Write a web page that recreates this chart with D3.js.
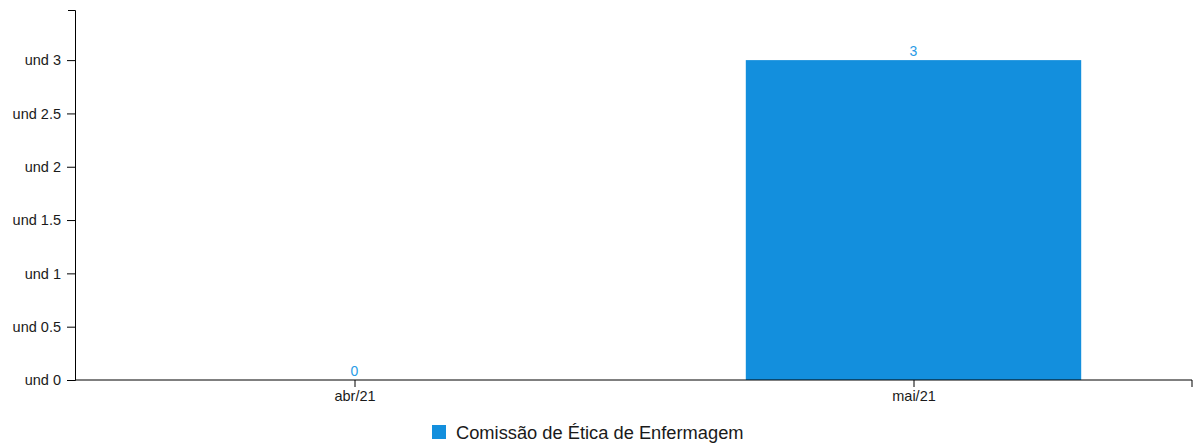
<!doctype html>
<head>
	<meta charset="utf-8">
	<script src="https://d3js.org/d3.v7.min.js"></script>
	<style>
		body { margin: 0; background: #fff; }
		text { font-family: "Liberation Sans", Arial, sans-serif; }
	</style>
</head>
<body>
	<svg id="chart" width="1194" height="445"></svg>
	<script>
		// data
		let categories = ["abr/21", "mai/21"]
		let values = [0, 3]
		let seriesName = "Comissão de Ética de Enfermagem"
		let yTicks = [0, 0.5, 1, 1.5, 2, 2.5, 3]
		let yMax = 3.47

		let color = "#138fdd"
		let svg = d3.select("#chart")

		let x = d3.scaleBand().domain(categories).range([75, 1193])
			.paddingInner(0.4).paddingOuter(0.2)
		let y = d3.scaleLinear().domain([0, yMax]).range([380, 10])

		// bars
		svg.selectAll("rect.bar").data(values).join("rect")
			.attr("class", "bar")
			.attr("x", (d, i) => x(categories[i]))
			.attr("y", d => y(d))
			.attr("width", x.bandwidth())
			.attr("height", d => y(0) - y(d))
			.attr("fill", color)

		// value labels
		svg.selectAll("text.val").data(values).join("text")
			.attr("class", "val")
			.attr("x", (d, i) => x(categories[i]) + x.bandwidth() / 2)
			.attr("y", d => y(d) - 4)
			.attr("text-anchor", "middle")
			.attr("font-size", 14)
			.attr("fill", "#2a9be6")
			.text(d => d)

		// axes
		let xAxis = d3.axisBottom(d3.scalePoint().domain(categories)
			.range([x(categories[0]) + x.bandwidth() / 2, x(categories[1]) + x.bandwidth() / 2]))
			.tickSize(7).tickPadding(4)
		let gx = svg.append("g").attr("transform", "translate(0,380)")
		gx.append("path").attr("d", "M75,0H1192V7").attr("stroke", "#000").attr("fill", "none")
		gx.call(xAxis.tickSizeOuter(0))
		gx.select(".domain").remove()
		gx.selectAll("text").attr("font-size", 14.5).attr("fill", "#1a1a1a")

		let gy = svg.append("g").attr("transform", "translate(75,0)")
			.call(d3.axisLeft(y).tickValues(yTicks).tickFormat(d => "und " + d)
				.tickSize(8).tickPadding(6).tickSizeOuter(7))
		gy.selectAll("text").attr("font-size", 14.5).attr("fill", "#1a1a1a")
		svg.selectAll(".domain, .tick line").attr("stroke", "#000")

		// legend
		let lg = svg.append("g").attr("transform", "translate(432,425)")
		lg.append("rect").attr("width", 14).attr("height", 14).attr("fill", color)
		lg.append("text").attr("x", 24).attr("y", 14).attr("font-size", 18.3).attr("fill", "#1a1a1a").text(seriesName)
	</script>
</body>
